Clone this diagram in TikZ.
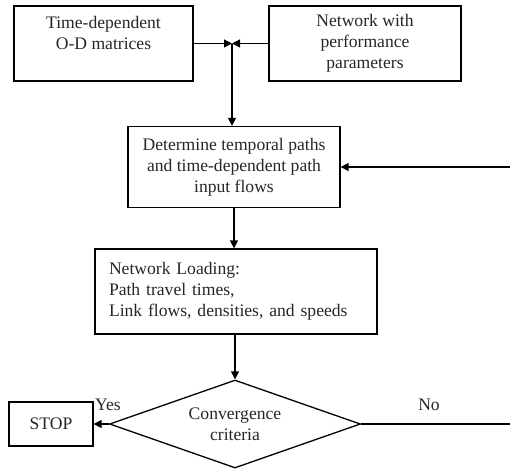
\documentclass[tikz,border=0pt]{standalone}
\usepackage{fontspec}
\setmainfont{Liberation Serif}
\usetikzlibrary{arrows.meta,shapes.geometric}
\begin{document}
\begin{tikzpicture}[x=1pt,y=-1pt,
  every node/.style={font=\fontsize{17.6}{21}\selectfont, text=black!85},
  box/.style={draw, line width=1.3pt, align=center, inner sep=0pt},
  flow/.style={line width=1.3pt, -{Triangle[length=8pt,width=8pt]}},
  plain/.style={line width=1.3pt}]
\useasboundingbox (0,0) rectangle (510,469);

% boxes
\node[box, minimum width=179pt, minimum height=75pt] (od) at (103.5,43.5)
  {Time-dependent\\O-D matrices\\\mbox{}};
\node[box, minimum width=192pt, minimum height=75pt] (net) at (365,43.5)
  {Network with\\performance\\parameters};
\node[box, minimum width=212pt, minimum height=81pt] (paths) at (234,167)
  {Determine temporal paths\\and time-dependent path\\input flows};
\node[box, text width=254pt, inner xsep=14pt, minimum height=85pt, align=left] (load) at (236,291.5)
  {Network Loading:\\Path travel times,\\Link flows, densities, and speeds};
\node[draw, line width=1.3pt, diamond, shape aspect=2.85, minimum width=251pt,
  minimum height=88pt, inner sep=0pt, align=center] (conv) at (235,424)
  {Convergence\\criteria};
\node[box, minimum width=84pt, minimum height=44pt] (stop) at (51,424) {STOP};

% junction of the two inputs
\coordinate (j) at (232,43.5);
\coordinate (rb) at (518,424);

\draw[flow] (od.east) -- (j);
\draw[flow] (net.west) -- (j);
\draw[flow] (j) -- (j |- paths.north);
\draw[flow] (paths.south) -- (paths.south |- load.north);
\draw[flow] (conv.north |- load.south) -- (conv.north);
\draw[flow] (conv.west) -- (stop.east);
\draw[flow] (conv.east) -- (rb) |- (paths.east);

\node (yes) at (108,405) {Yes};
\node (no) at (429,405) {No};
\end{tikzpicture}
\end{document}
